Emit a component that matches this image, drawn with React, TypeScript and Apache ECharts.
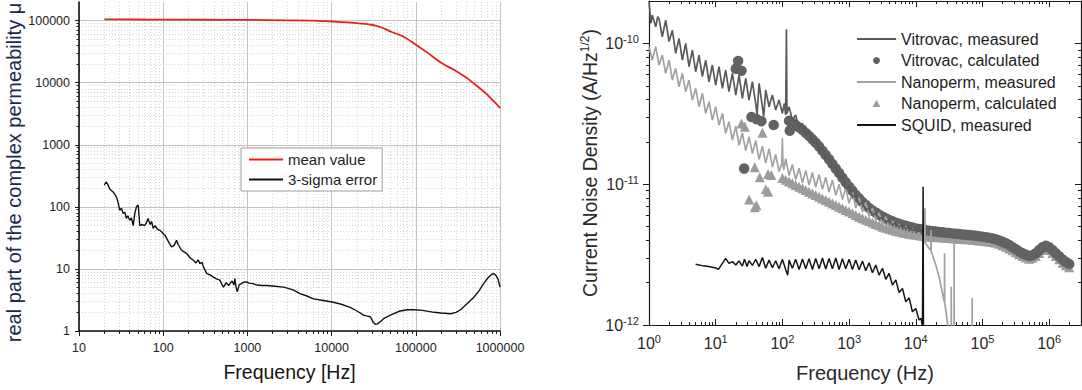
import React, { useEffect, useRef } from 'react';
import * as echarts from 'echarts';

// ---------- Left panel: complex permeability ----------
const meanValue: [number, number][] = [
  [20, 105000], [50, 104500], [100, 104000], [300, 103500], [1000, 103000], [3000, 101500],
  [6000, 100500], [10000, 97000], [15000, 94000], [20000, 91000], [30000, 86000], [40000, 77000],
  [50000, 67000], [70000, 56000], [100000, 41000], [140000, 30000], [200000, 21000], [300000, 15500],
  [400000, 12000], [500000, 9500], [600000, 7800], [700000, 6500], [800000, 5400], [900000, 4600],
  [1000000, 3900],
];

const sigmaError: [number, number][] = [
  [20, 225], [21, 253], [22, 230], [23, 198], [24, 185], [25.4, 174], [26.5, 160], [27.8, 145],
  [29, 120], [30.5, 88], [32, 95], [33.4, 78], [35, 82], [36.6, 65], [38, 72], [40, 61], [42, 66],
  [44, 50], [46, 78], [48, 100], [50.5, 107], [52.7, 50], [56, 52], [60, 50], [63, 55], [66, 65],
  [70, 52], [73, 58], [76, 45], [80, 50], [85, 44], [91, 42], [95, 40], [100, 37], [105, 35],
  [110, 31], [118, 26], [126, 22.6], [135, 24], [144, 29], [150, 25], [165, 20], [175, 19],
  [190, 17.7], [210, 15], [228, 13.8], [245, 12.5], [260, 14], [273, 12.2], [290, 12.8], [300, 10.8],
  [330, 8.4], [360, 8.0], [395, 7.4], [430, 6.9], [470, 6.6], [500, 5.6], [520, 5.1], [560, 6.0],
  [600, 5.4], [620, 5.8], [660, 6.4], [690, 5.5], [710, 7.0], [735, 5.0], [760, 4.3], [800, 5.6],
  [850, 5.8], [900, 6.1], [980, 6.2], [1050, 5.9], [1170, 5.8], [1300, 5.5], [1500, 5.4], [1700, 5.4],
  [2000, 5.3], [2700, 5.1], [3500, 4.6], [4200, 4.0], [5000, 3.7], [6100, 3.3], [8000, 3.1],
  [10500, 2.9], [13000, 2.7], [16600, 2.4], [20000, 2.1], [24000, 1.8], [26000, 1.75], [28600, 1.7],
  [30000, 1.55], [31000, 1.4], [33000, 1.28], [35000, 1.3], [37700, 1.4], [42000, 1.6], [50000, 1.8],
  [65000, 2.1], [80000, 2.2], [94000, 2.2], [120000, 2.15], [165000, 2.0], [200000, 1.95],
  [260000, 1.9], [300000, 2.0], [340000, 2.2], [400000, 2.7], [490000, 3.5], [560000, 4.4],
  [640000, 5.8], [720000, 7.2], [800000, 8.2], [850000, 8.4], [900000, 7.8], [950000, 6.8],
  [1000000, 5.1],
];

// ---------- Right panel: current noise density (A/Hz^1/2) ----------
const vitrovacMeasured: [number, number][] = [
  [1, 1.98e-10], [1.07, 1.39e-10], [1.12, 1.59e-10], [1.26, 1.31e-10], [1.35, 1.55e-10], [1.41, 1.5e-10],
  [1.58, 1.115e-10], [1.78, 1.46e-10], [2.0, 1.03e-10], [2.24, 1.24e-10], [2.51, 8.49e-11], [2.82, 1.085e-10],
  [3.16, 7.61e-11], [3.55, 1.0e-10], [3.98, 6.83e-11], [4.47, 8.97e-11], [5.01, 6.29e-11], [5.62, 8.26e-11],
  [6.31, 5.8e-11], [7.08, 7.61e-11], [7.94, 5.34e-11], [8.91, 7.02e-11], [10, 5.06e-11], [11.2, 6.83e-11],
  [12.6, 4.79e-11], [14.1, 6.47e-11], [15.8, 4.54e-11], [17.8, 6.12e-11], [20, 4.3e-11], [22.4, 5.96e-11],
  [25.1, 4.07e-11], [28.2, 5.64e-11], [31.6, 3.96e-11], [35.5, 5.34e-11], [39.8, 3.75e-11], [41.7, 3.1e-11],
  [44.7, 5.2e-11], [50.1, 3.55e-11], [52.5, 3.02e-11], [56.2, 4.67e-11], [63.1, 3.55e-11], [70.8, 4.3e-11],
  [79.4, 3.36e-11], [89.1, 3.96e-11], [100, 3.18e-11], [107, 3.75e-11], [112, 3.1e-11], [115, 1.26e-10],
  [117, 3.18e-11], [126, 3.55e-11], [141, 2.85e-11], [158, 3.1e-11], [178, 2.49e-11], [200, 2.7e-11],
  [224, 2.23e-11], [251, 2.43e-11], [282, 1.95e-11], [316, 2.12e-11], [355, 1.7e-11], [398, 1.85e-11],
  [447, 1.5e-11], [501, 1.585e-11], [562, 1.295e-11], [631, 1.37e-11], [708, 1.1e-11], [794, 1.14e-11],
  [891, 9.34e-12], [1000, 9.6e-12], [1122, 8.15e-12], [1259, 8.24e-12], [1413, 7.23e-12], [1585, 7.39e-12],
  [1778, 6.56e-12], [1995, 6.74e-12], [2239, 6.04e-12], [2512, 6.21e-12], [2818, 5.66e-12], [3162, 5.81e-12],
  [3548, 5.36e-12], [3981, 5.57e-12], [4467, 5.13e-12], [5012, 5.33e-12], [5623, 4.97e-12], [6310, 5.16e-12],
  [7079, 4.8e-12], [7943, 5.02e-12], [8913, 4.68e-12], [10000, 4.83e-12], [11220, 4.6e-12], [12020, 4.73e-12],
];

const vitrovacCalculated: [number, number][] = [
  [20, 6.6e-11], [21.7, 7.5e-11], [24.4, 6.4e-11], [26.7, 1.29e-11], [34.4, 3.0e-11], [40.8, 2.9e-11],
  [48.5, 2.8e-11], [74, 2.63e-11], [129, 2.4e-11],
  [126, 2.82e-11], [141, 2.72e-11], [158, 2.63e-11], [178, 2.53e-11], [200, 2.43e-11], [224, 2.31e-11],
  [251, 2.2e-11], [282, 2.08e-11], [316, 1.97e-11], [355, 1.85e-11], [398, 1.73e-11], [447, 1.61e-11],
  [501, 1.5e-11], [562, 1.39e-11], [631, 1.29e-11], [708, 1.2e-11], [794, 1.11e-11], [891, 1.03e-11],
  [1000, 9.6e-12], [1122, 8.96e-12], [1259, 8.37e-12], [1413, 7.9e-12], [1585, 7.47e-12], [1778, 7.1e-12],
  [1995, 6.77e-12], [2239, 6.5e-12], [2512, 6.28e-12], [2818, 6.07e-12], [3162, 5.88e-12], [3548, 5.72e-12],
  [3981, 5.57e-12], [4467, 5.45e-12], [5012, 5.33e-12], [5623, 5.23e-12], [6310, 5.13e-12], [7079, 5.06e-12],
  [7943, 4.99e-12], [8913, 4.92e-12], [10000, 4.85e-12], [11220, 4.8e-12], [12589, 4.76e-12], [14125, 4.71e-12],
  [15849, 4.67e-12], [17783, 4.64e-12], [19953, 4.61e-12], [22387, 4.58e-12], [25119, 4.55e-12],
  [28184, 4.52e-12], [31623, 4.5e-12], [35481, 4.47e-12], [39811, 4.45e-12], [44668, 4.42e-12],
  [50119, 4.4e-12], [56234, 4.38e-12], [63096, 4.36e-12], [70795, 4.33e-12], [79433, 4.3e-12],
  [89125, 4.27e-12], [100000, 4.24e-12], [112202, 4.2e-12], [125893, 4.16e-12], [141254, 4.11e-12],
  [158489, 4.06e-12], [177828, 3.98e-12], [199526, 3.9e-12], [223872, 3.8e-12], [251189, 3.7e-12],
  [281838, 3.57e-12], [316228, 3.45e-12], [354813, 3.33e-12], [398107, 3.23e-12], [446684, 3.15e-12],
  [501187, 3.09e-12], [562341, 3.13e-12], [630957, 3.23e-12], [707946, 3.4e-12], [794328, 3.56e-12],
  [891251, 3.65e-12], [1000000, 3.56e-12], [1122018, 3.4e-12], [1258925, 3.23e-12], [1412538, 3.07e-12],
  [1584893, 2.92e-12], [1778279, 2.8e-12], [1995262, 2.71e-12],
];

const nanopermMeasured: [number, number][] = [
  [1, 9.47e-11], [1.12, 7.61e-11], [1.26, 9.47e-11], [1.41, 7.02e-11], [1.58, 8.26e-11], [1.78, 6.12e-11],
  [2.0, 7.61e-11], [2.24, 5.49e-11], [2.51, 6.65e-11], [2.82, 4.92e-11], [3.16, 6.12e-11], [3.55, 4.54e-11],
  [3.98, 5.49e-11], [4.47, 3.96e-11], [5.01, 4.79e-11], [5.62, 3.55e-11], [6.31, 4.42e-11], [7.08, 3.18e-11],
  [7.94, 3.85e-11], [8.91, 2.85e-11], [10, 3.55e-11], [11.2, 2.63e-11], [12.6, 3.18e-11], [14.1, 2.3e-11],
  [15.8, 2.78e-11], [17.8, 2.06e-11], [20, 2.59e-11], [22.4, 1.89e-11], [25.1, 2.31e-11], [28.2, 1.73e-11],
  [31.6, 2.17e-11], [35.5, 1.65e-11], [39.8, 2.04e-11], [44.7, 1.5e-11], [50.1, 1.86e-11], [56.2, 1.41e-11],
  [63.1, 1.79e-11], [70.8, 1.32e-11], [79.4, 1.63e-11], [89.1, 1.23e-11], [98, 1.4e-11], [100, 2.12e-11],
  [102, 1.38e-11], [105, 1.26e-11], [112, 1.52e-11], [126, 1.15e-11], [141, 1.38e-11], [158, 1.08e-11],
  [178, 1.3e-11], [200, 1.025e-11], [224, 1.25e-11], [251, 9.86e-12], [282, 1.21e-11], [316, 9.55e-12],
  [355, 1.17e-11], [398, 9.19e-12], [447, 1.12e-11], [501, 8.8e-12], [562, 1.07e-11], [631, 8.33e-12],
  [708, 1.0e-11], [794, 7.8e-12], [891, 9.39e-12], [1000, 7.31e-12], [1122, 8.75e-12], [1259, 6.77e-12],
  [1413, 8.02e-12], [1585, 6.34e-12], [1778, 7.43e-12], [1995, 5.88e-12], [2239, 6.77e-12], [2512, 5.53e-12],
  [2818, 6.27e-12], [3162, 5.13e-12], [3548, 5.88e-12], [3981, 4.86e-12], [4467, 5.48e-12], [5012, 4.6e-12],
  [5623, 5.19e-12], [6310, 4.4e-12], [7079, 5.02e-12], [7943, 4.26e-12], [8913, 4.83e-12], [10000, 4.26e-12],
  [11220, 4.6e-12], [12589, 3.97e-12], [13500, 3.85e-12], [13700, 6.74e-12], [13900, 3.82e-12],
  [14125, 3.8e-12], [15849, 3.5e-12], [16800, 3.4e-12], [16900, 4.73e-12], [17000, 3.35e-12],
  [17783, 3.14e-12], [19953, 2.67e-12], [22387, 2.2e-12], [25119, 1.68e-12], [26900, 1.45e-12],
  [27000, 3.23e-12], [27100, 1.42e-12], [28184, 1.28e-12], [30200, 1.0e-12], [31000, 7e-13],
  [33900, 7e-13], [34000, 1.87e-12], [34100, 7e-13], [37500, 7e-13], [37600, 3.91e-12], [37700, 7e-13],
  [69900, 7e-13], [70000, 1.55e-12], [70100, 7e-13],
];

const nanopermCalculated: [number, number][] = [
  [24.4, 2.7e-11], [27.3, 2.56e-11], [50.2, 2.32e-11], [38.5, 1.32e-11], [45.8, 1.12e-11], [61, 1.18e-11],
  [68.4, 1.16e-11], [56.3, 9.2e-12], [61, 8.85e-12], [31.7, 7.8e-12], [38.5, 6.85e-12], [40.8, 7.1e-12],
  [100, 1.107e-11], [112, 1.077e-11], [126, 1.047e-11], [141, 1.015e-11], [158, 9.87e-12], [178, 9.6e-12],
  [200, 9.34e-12], [224, 9.08e-12], [251, 8.84e-12], [282, 8.6e-12], [316, 8.37e-12], [355, 8.15e-12],
  [398, 7.93e-12], [447, 7.72e-12], [501, 7.51e-12], [562, 7.3e-12], [631, 7.11e-12], [708, 6.92e-12],
  [794, 6.74e-12], [891, 6.57e-12], [1000, 6.41e-12], [1122, 6.22e-12], [1259, 6.04e-12], [1413, 5.88e-12],
  [1585, 5.72e-12], [1778, 5.59e-12], [1995, 5.47e-12], [2239, 5.34e-12], [2512, 5.21e-12], [2818, 5.1e-12],
  [3162, 4.99e-12], [3548, 4.91e-12], [3981, 4.83e-12], [4467, 4.75e-12], [5012, 4.67e-12], [5623, 4.61e-12],
  [6310, 4.55e-12], [7079, 4.5e-12], [7943, 4.45e-12], [8913, 4.41e-12], [10000, 4.38e-12], [11220, 4.34e-12],
  [12589, 4.3e-12], [14125, 4.27e-12], [15849, 4.24e-12], [17783, 4.22e-12], [19953, 4.21e-12],
  [22387, 4.2e-12], [25119, 4.19e-12], [28184, 4.17e-12], [31623, 4.15e-12], [35481, 4.13e-12],
  [39811, 4.12e-12], [44668, 4.1e-12], [50119, 4.09e-12], [56234, 4.07e-12], [63096, 4.06e-12],
  [70795, 4.03e-12], [79433, 4.01e-12], [89125, 3.99e-12], [100000, 3.97e-12], [112202, 3.94e-12],
  [125893, 3.91e-12], [141254, 3.88e-12], [158489, 3.84e-12], [177828, 3.77e-12], [199526, 3.68e-12],
  [223872, 3.6e-12], [251189, 3.5e-12], [281838, 3.39e-12], [316228, 3.28e-12], [354813, 3.18e-12],
  [398107, 3.09e-12], [446684, 3.02e-12], [501187, 2.96e-12], [562341, 3.0e-12], [630957, 3.09e-12],
  [707946, 3.25e-12], [794328, 3.41e-12], [891251, 3.5e-12], [1000000, 3.41e-12], [1122018, 3.25e-12],
  [1258925, 3.09e-12], [1412538, 2.93e-12], [1584893, 2.77e-12], [1778279, 2.66e-12], [1995262, 2.57e-12],
];

const squidMeasured: [number, number][] = [
  [5.0, 2.7e-12], [6.3, 2.64e-12], [7.9, 2.6e-12], [10, 2.54e-12], [11, 2.48e-12], [12.6, 2.74e-12],
  [14.1, 2.97e-12], [15.8, 2.74e-12], [17.8, 2.82e-12], [20, 2.67e-12], [22.4, 2.85e-12], [25.1, 2.62e-12],
  [27, 2.93e-12], [29.5, 2.6e-12], [31.6, 2.86e-12], [35.5, 2.65e-12], [39.8, 2.93e-12], [44.7, 2.6e-12],
  [50.1, 3.02e-12], [56.2, 2.53e-12], [63.1, 2.89e-12], [70.8, 2.55e-12], [79.4, 2.86e-12], [89.1, 2.51e-12],
  [100, 2.93e-12], [112, 2.48e-12], [120, 2.26e-12], [126, 2.89e-12], [141, 2.53e-12], [158, 2.93e-12],
  [178, 2.48e-12], [200, 2.94e-12], [224, 2.51e-12], [251, 2.96e-12], [282, 2.48e-12], [316, 2.97e-12],
  [355, 2.51e-12], [398, 2.99e-12], [447, 2.5e-12], [501, 2.97e-12], [562, 2.51e-12], [631, 2.99e-12],
  [708, 2.48e-12], [794, 2.96e-12], [891, 2.51e-12], [1000, 2.93e-12], [1122, 2.48e-12], [1259, 2.89e-12],
  [1413, 2.47e-12], [1585, 2.85e-12], [1778, 2.43e-12], [1995, 2.77e-12], [2239, 2.35e-12], [2512, 2.67e-12],
  [2818, 2.26e-12], [3162, 2.53e-12], [3548, 2.11e-12], [3981, 2.33e-12], [4467, 1.92e-12], [5012, 2.09e-12],
  [5623, 1.7e-12], [6310, 1.82e-12], [7079, 1.46e-12], [7943, 1.56e-12], [8913, 1.24e-12], [10000, 1.31e-12],
  [11220, 1.085e-12], [12023, 1.115e-12], [12589, 9.7e-13], [12882, 9.6e-12], [13032, 9.5e-13],
];

// axis ranges
const leftX = { min: 10, max: 1e6 };
const leftY = { min: 1, max: 200000 };
const rightX = { min: 1, max: 3e6 };
const rightY = { min: 1e-12, max: 2e-10 };
const Y_UNIT = 1e12; // right-panel values drawn in units of 1e-12 A/Hz^1/2

const FONT = 'Liberation Sans, Arial, Helvetica, sans-serif';

const lg = Math.log10;
const isPow10 = (v: number) => Math.abs(lg(v) - Math.round(lg(v))) < 1e-6;
const majors = (a: number, b: number) => {
  const out: number[] = [];
  for (let d = Math.ceil(lg(a) - 1e-9); d <= lg(b) + 1e-9; d++) out.push(d);
  return out;
};
const minors = (a: number, b: number) => {
  const out: number[] = [];
  for (let d = Math.floor(lg(a)); d < lg(b); d++)
    for (let k = 2; k <= 9; k++) {
      const v = d + lg(k);
      if (v > lg(a) + 1e-9 && v < lg(b) - 1e-9) out.push(v);
    }
  return out;
};

function decorAxis(grid: number, range: { min: number; max: number }, position: string, ticks: number[], opts: any) {
  return {
    type: 'value',
    gridIndex: grid,
    position,
    min: lg(range.min),
    max: lg(range.max),
    axisLine: { show: !!opts.line, onZero: false, lineStyle: { color: '#1a1a1a', width: opts.lineWidth || 1.2 } },
    axisLabel: { show: false },
    axisTick: {
      show: true,
      customValues: ticks,
      inside: !!opts.inside,
      length: opts.len,
      lineStyle: { color: '#1a1a1a', width: 1 },
    },
    splitLine: opts.split ? { show: true, lineStyle: opts.split } : { show: false },
  };
}

const powLabel = (v: number, shift: number) => {
  if (!isPow10(v)) return '';
  const e = Math.round(lg(v)) + shift;
  return `{b|10}{s|${e}}`;
};
const powRich = {
  b: { fontSize: 16, fontFamily: FONT, color: '#2a2a2a' },
  s: { fontSize: 11, fontFamily: FONT, color: '#2a2a2a', padding: [0, 0, 9, 0] },
};

const TRIANGLE_ICON = 'path://M5,0 L10,9 L0,9 Z';
const lineItem = (name: string) => ({ name, itemStyle: { opacity: 0 } });

function buildOption(): any {
  const scale = (arr: [number, number][]) => arr.map(([f, v]) => [f, v * Y_UNIT]);
  const majorGrid = { color: '#c3c3c3', width: 1 };
  const minorGrid = { color: '#d6d6d6', width: 1, type: [1, 2] };
  const rY = { min: rightY.min * Y_UNIT, max: rightY.max * Y_UNIT };

  return {
    animation: false,
    backgroundColor: '#ffffff',
    grid: [
      { left: 79, top: 2, width: 421, height: 329, containLabel: false, outerBoundsMode: 'none' },
      { left: 649, top: 1, width: 432, height: 324, containLabel: false, outerBoundsMode: 'none' },
    ],
    xAxis: [
      {
        type: 'log', logBase: 10, gridIndex: 0, position: 'bottom', min: leftX.min, max: leftX.max,
        axisLine: { show: true, onZero: false, lineStyle: { color: '#111', width: 1.6 } },
        axisTick: { show: false }, splitLine: { show: false },
        axisLabel: { formatter: (v: number) => (isPow10(v) ? String(v) : ''), fontSize: 12.5, color: '#222', margin: 10, fontFamily: FONT },
        name: 'Frequency [Hz]', nameLocation: 'middle', nameGap: 31,
        nameTextStyle: { fontSize: 19.5, color: '#151515', fontFamily: FONT },
      },
      decorAxis(0, leftX, 'bottom', majors(leftX.min, leftX.max), { len: 5, split: majorGrid }),
      decorAxis(0, leftX, 'bottom', minors(leftX.min, leftX.max), { len: 3, split: minorGrid }),
      {
        type: 'log', logBase: 10, gridIndex: 1, position: 'bottom', min: rightX.min, max: rightX.max,
        axisLine: { show: true, onZero: false, lineStyle: { color: '#1a1a1a', width: 1.2 } },
        axisTick: { show: false }, splitLine: { show: false },
        axisLabel: { formatter: (v: number) => powLabel(v, 0), rich: powRich, margin: 8 },
        name: 'Frequency (Hz)', nameLocation: 'middle', nameGap: 38,
        nameTextStyle: { fontSize: 20, color: '#2a2a2a', fontFamily: FONT },
      },
      decorAxis(1, rightX, 'bottom', majors(rightX.min, rightX.max), { len: 6, inside: true }),
      decorAxis(1, rightX, 'bottom', minors(rightX.min, rightX.max), { len: 3, inside: true }),
      decorAxis(1, rightX, 'top', majors(rightX.min, rightX.max), { len: 6, inside: true, line: true }),
      decorAxis(1, rightX, 'top', minors(rightX.min, rightX.max), { len: 3, inside: true }),
    ],
    yAxis: [
      {
        type: 'log', logBase: 10, gridIndex: 0, position: 'left', min: leftY.min, max: leftY.max,
        axisLine: { show: true, onZero: false, lineStyle: { color: '#111', width: 1.6 } },
        axisTick: { show: false }, splitLine: { show: false },
        axisLabel: { formatter: (v: number) => (isPow10(v) ? String(v) : ''), fontSize: 12.5, color: '#222', margin: 9, fontFamily: FONT },
        name: 'real part of the complex permeability μ', nameLocation: 'middle', nameGap: 50,
        nameTextStyle: { fontSize: 20, color: '#1b2b4b', fontFamily: FONT, padding: [0, 12, 0, 0] },
      },
      decorAxis(0, leftY, 'left', majors(leftY.min, leftY.max), { len: 4, split: majorGrid }),
      decorAxis(0, leftY, 'left', minors(leftY.min, leftY.max), { len: 2.5, split: minorGrid }),
      {
        type: 'log', logBase: 10, gridIndex: 1, position: 'left', min: rY.min, max: rY.max,
        axisLine: { show: true, onZero: false, lineStyle: { color: '#1a1a1a', width: 1.2 } },
        axisTick: { show: false }, splitLine: { show: false },
        axisLabel: { formatter: (v: number) => powLabel(v, -12), rich: powRich, margin: 10 },
        name: '{t|Current Noise Density (A/Hz}{s|1/2}{t|)}', nameLocation: 'middle', nameGap: 48,
        nameTextStyle: {
          rich: {
            t: { fontSize: 19.5, color: '#2a2a2a', fontFamily: FONT },
            s: { fontSize: 12, color: '#2a2a2a', fontFamily: FONT, padding: [0, 0, 10, 0] },
          },
        },
      },
      decorAxis(1, rY, 'left', majors(rY.min, rY.max), { len: 6 }),
      decorAxis(1, rY, 'left', minors(rY.min, rY.max), { len: 3 }),
      decorAxis(1, rY, 'right', majors(rY.min, rY.max), { len: 6, inside: true, line: true }),
      decorAxis(1, rY, 'right', minors(rY.min, rY.max), { len: 3, inside: true }),
    ],
    legend: [
      {
        left: 241, top: 148, orient: 'vertical', selectedMode: false,
        data: [lineItem('mean value'), lineItem('3-sigma error')],
        itemWidth: 34, itemHeight: 14, itemGap: 5,
        padding: [4, 5, 4, 7],
        borderColor: '#a0a0a0', borderWidth: 1, backgroundColor: '#ffffff',
        textStyle: { fontSize: 15, color: '#1e1e1e', fontFamily: FONT },
      },
      {
        left: 856, top: 31, orient: 'vertical', selectedMode: false,
        data: [
          lineItem('Vitrovac, measured'),
          { name: 'Vitrovac, calculated', icon: 'circle' },
          lineItem('Nanoperm, measured'),
          { name: 'Nanoperm, calculated', icon: TRIANGLE_ICON },
          lineItem('SQUID, measured'),
        ],
        itemWidth: 39, itemHeight: 7, itemGap: 5.5,
        padding: 0,
        textStyle: { fontSize: 16, color: '#1e1e1e', fontFamily: FONT },
      },
    ],
    series: [
      {
        name: 'mean value', type: 'line', xAxisIndex: 0, yAxisIndex: 0, data: meanValue,
        symbol: 'none', smooth: 0.3, color: '#e8211d', lineStyle: { width: 1.8, color: '#e8211d' }, silent: true,
      },
      {
        name: '3-sigma error', type: 'line', xAxisIndex: 0, yAxisIndex: 0, data: sigmaError,
        symbol: 'none', color: '#111', lineStyle: { width: 1.4, color: '#111' }, silent: true,
      },
      {
        name: 'Nanoperm, measured', type: 'line', xAxisIndex: 3, yAxisIndex: 3, data: scale(nanopermMeasured),
        symbol: 'none', color: '#a2a2a2', lineStyle: { width: 1.7, color: '#a2a2a2' }, silent: true,
      },
      {
        name: 'Nanoperm, calculated', type: 'scatter', xAxisIndex: 3, yAxisIndex: 3, data: scale(nanopermCalculated),
        symbol: 'triangle', symbolSize: 10, itemStyle: { color: '#9c9c9c', opacity: 1 }, silent: true,
      },
      {
        name: 'Vitrovac, measured', type: 'line', xAxisIndex: 3, yAxisIndex: 3, data: scale(vitrovacMeasured),
        symbol: 'none', color: '#5a5a5a', lineStyle: { width: 1.7, color: '#5a5a5a' }, silent: true,
      },
      {
        name: 'Vitrovac, calculated', type: 'scatter', xAxisIndex: 3, yAxisIndex: 3, data: scale(vitrovacCalculated),
        symbol: 'circle', symbolSize: 10.5, itemStyle: { color: '#626262', opacity: 1 }, silent: true,
      },
      {
        name: 'SQUID, measured', type: 'line', xAxisIndex: 3, yAxisIndex: 3, data: scale(squidMeasured),
        symbol: 'none', color: '#151515', lineStyle: { width: 1.5, color: '#151515' }, silent: true,
      },
    ],
  };
}

export default function App() {
  const ref = useRef<HTMLDivElement>(null);
  useEffect(() => {
    if (!ref.current) return;
    const chart = echarts.init(ref.current, null, { renderer: 'svg' });
    chart.setOption(buildOption());
    return () => chart.dispose();
  }, []);
  return (
    <div
      ref={ref}
      style={{ position: 'fixed', left: 0, top: 0, width: 1082, height: 390, background: '#ffffff' }}
    />
  );
}
